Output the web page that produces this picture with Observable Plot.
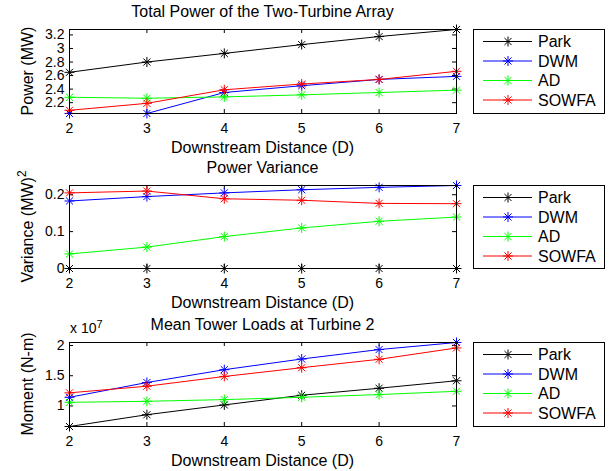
<!DOCTYPE html>
<html>
<head>
<meta charset="utf-8">
<script src="https://cdn.jsdelivr.net/npm/d3@7"></script>
<script src="https://cdn.jsdelivr.net/npm/@observablehq/plot@0.6"></script>
<style>
  html, body { margin: 0; padding: 0; background: #fff; }
  #chart { position: relative; width: 616px; height: 471px; overflow: hidden; font-family: "Liberation Sans", Arial, Helvetica, sans-serif; }
  #chart svg { position: absolute; left: 0; }
</style>
</head>
<body>
<div id="chart"></div>
<script>
// ---- data ----
const distances = [2, 3, 4, 5, 6, 7];
const models = ["Park", "DWM", "AD", "SOWFA"];
const modelColors = ["#000000", "#0000ff", "#00ff00", "#ff0000"];

// Total power (MW)
const powerPark  = [2.648, 2.800, 2.927, 3.057, 3.176, 3.280];
const powerDWM   = [2.040, 2.040, 2.350, 2.450, 2.543, 2.588];
const powerAD    = [2.280, 2.265, 2.285, 2.315, 2.350, 2.385];
const powerSOWFA = [2.087, 2.190, 2.390, 2.475, 2.543, 2.663];

// Power variance (MW)^2
const varPark  = [0, 0, 0, 0, 0, 0];
const varDWM   = [0.183, 0.195, 0.205, 0.2135, 0.220, 0.225];
const varAD    = [0.0395, 0.058, 0.0865, 0.110, 0.128, 0.1395];
const varSOWFA = [0.205, 0.210, 0.189, 0.185, 0.1765, 0.1757];

// Mean tower loads at turbine 2 (N-m, x 10^7)
const momPark  = [0.660, 0.855, 1.017, 1.177, 1.293, 1.417];
const momDWM   = [1.143, 1.388, 1.600, 1.777, 1.933, 2.050];
const momAD    = [1.060, 1.077, 1.105, 1.143, 1.188, 1.243];
const momSOWFA = [1.217, 1.327, 1.488, 1.633, 1.772, 1.960];

// tick labels
const xTicks = [2, 3, 4, 5, 6, 7];
const powerTicks = [2.2, 2.4, 2.6, 2.8, 3, 3.2];
const varTicks = [0, 0.1, 0.2];
const momTicks = [1, 1.5, 2];

const titles = ["Total Power of the Two-Turbine Array", "Power Variance", "Mean Tower Loads at Turbine 2"];
const xLabel = "Downstream Distance (D)";

// ---- helpers ----
const FONT = '"Liberation Sans", Arial, Helvetica, sans-serif';
const asterisk = {
  draw(ctx, size) {
    const r = Math.sqrt(size / Math.PI);
    const d = r * Math.SQRT1_2;
    ctx.moveTo(-r, 0); ctx.lineTo(r, 0);
    ctx.moveTo(0, -r); ctx.lineTo(0, r);
    ctx.moveTo(-d, -d); ctx.lineTo(d, d);
    ctx.moveTo(-d, d); ctx.lineTo(d, -d);
  }
};

function toRows(seriesArrays) {
  const rows = [];
  seriesArrays.forEach((vals, i) => {
    vals.forEach((v, j) => rows.push({model: models[i], d: distances[j], v}));
  });
  return rows;
}

const W = 616, ML = 69, MR = 160;
const frameW = W - ML - MR;
const tick = 4;

const panels = [
  {top: 0, height: 160, mt: 29, mb: 47, series: [powerPark, powerDWM, powerAD, powerSOWFA], yTicks: powerTicks, title: titles[0], ylabel: "Power (MW)"},
  {top: 160, height: 155, mt: 25, mb: 47, series: [varPark, varDWM, varAD, varSOWFA], yTicks: varTicks, title: titles[1], ylabel: "Variance (MW)", sup: "2"},
  {top: 315, height: 156, mt: 27, mb: 45, series: [momPark, momDWM, momAD, momSOWFA], yTicks: momTicks, title: titles[2], ylabel: "Moment (N-m)", exponent: true}
];

const chart = document.getElementById("chart");

panels.forEach(p => {
  const rows = toRows(p.series);
  const frameH = p.height - p.mt - p.mb;
  const marks = [];
  // inward ticks on all four sides
  marks.push(Plot.tickX(xTicks, {x: d => d, insetTop: frameH - tick, stroke: "black", strokeWidth: 1}));
  marks.push(Plot.tickX(xTicks, {x: d => d, insetBottom: frameH - tick, stroke: "black", strokeWidth: 1}));
  marks.push(Plot.tickY(p.yTicks, {y: d => d, insetRight: frameW - tick, stroke: "black", strokeWidth: 1}));
  marks.push(Plot.tickY(p.yTicks, {y: d => d, insetLeft: frameW - tick, stroke: "black", strokeWidth: 1}));
  marks.push(Plot.axisX({ticks: xTicks, tickSize: 0, tickPadding: 10, label: null, tickFormat: d => String(d)}));
  marks.push(Plot.axisY({ticks: p.yTicks, tickSize: 0, tickPadding: 5, label: null, tickFormat: d => String(d)}));
  models.forEach((m, i) => {
    const data = rows.filter(r => r.model === m);
    marks.push(Plot.line(data, {x: "d", y: "v", stroke: modelColors[i], strokeWidth: 1}));
    marks.push(Plot.dot(data, {x: "d", y: "v", symbol: asterisk, r: 5, fill: "none", stroke: modelColors[i], strokeWidth: 1}));
  });
  marks.push(Plot.frame({stroke: "black", strokeWidth: 1}));

  const svg = Plot.plot({
    width: W,
    height: p.height,
    marginLeft: ML,
    marginRight: MR,
    marginTop: p.mt,
    marginBottom: p.mb,
    x: {domain: [distances[0], distances[distances.length - 1]]},
    y: {domain: d3.extent(rows, r => r.v)},
    style: {fontFamily: FONT, fontSize: "14px", background: "transparent", overflow: "visible", color: "black"},
    marks
  });
  svg.style.top = p.top + "px";
  chart.appendChild(svg);

  const s = d3.select(svg);
  const cx = ML + frameW / 2;
  const frameBottom = p.height - p.mb;
  // title
  s.append("text").attr("x", cx).attr("y", p.mt - 12)
    .attr("text-anchor", "middle").attr("font-size", 16).attr("font-family", FONT).attr("fill", "black")
    .text(p.title);
  // x label
  s.append("text").attr("x", cx).attr("y", frameBottom + 40)
    .attr("text-anchor", "middle").attr("font-size", 16).attr("font-family", FONT).attr("fill", "black")
    .text(xLabel);
  // y label
  const yl = s.append("text")
    .attr("transform", `translate(33,${p.mt + frameH / 2}) rotate(-90)`)
    .attr("text-anchor", "middle").attr("font-size", 16).attr("font-family", FONT).attr("fill", "black");
  yl.append("tspan").text(p.ylabel);
  if (p.sup) yl.append("tspan").attr("dy", "-0.55em").attr("font-size", 12).text(p.sup);
  // exponent label
  if (p.exponent) {
    const ex = s.append("text").attr("x", ML + 1).attr("y", p.mt - 9).attr("text-anchor", "start")
      .attr("font-size", 14).attr("font-family", FONT).attr("fill", "black");
    ex.append("tspan").text("x 10");
    ex.append("tspan").attr("dy", "-0.5em").attr("font-size", 11).text("7");
  }
  // legend
  const lx0 = 473, lx1 = 604;
  const lg = s.append("g");
  lg.append("rect").attr("x", lx0 + 0.5).attr("y", p.mt + 0.5).attr("width", lx1 - lx0).attr("height", frameH)
    .attr("fill", "white").attr("stroke", "black").attr("stroke-width", 1);
  const sym = d3.symbol().type(asterisk).size(Math.PI * 25)();
  models.forEach((m, i) => {
    const yy = p.mt + 12.5 + 19.5 * i;
    lg.append("line").attr("x1", 483).attr("x2", 532).attr("y1", yy).attr("y2", yy)
      .attr("stroke", modelColors[i]).attr("stroke-width", 1);
    lg.append("path").attr("d", sym).attr("transform", `translate(508,${yy})`)
      .attr("fill", "none").attr("stroke", modelColors[i]).attr("stroke-width", 1);
    lg.append("text").attr("x", 538).attr("y", yy).attr("dy", "0.35em").attr("text-anchor", "start")
      .attr("font-size", 16).attr("font-family", FONT).attr("fill", "black").text(m);
  });
});
</script>
</body>
</html>
